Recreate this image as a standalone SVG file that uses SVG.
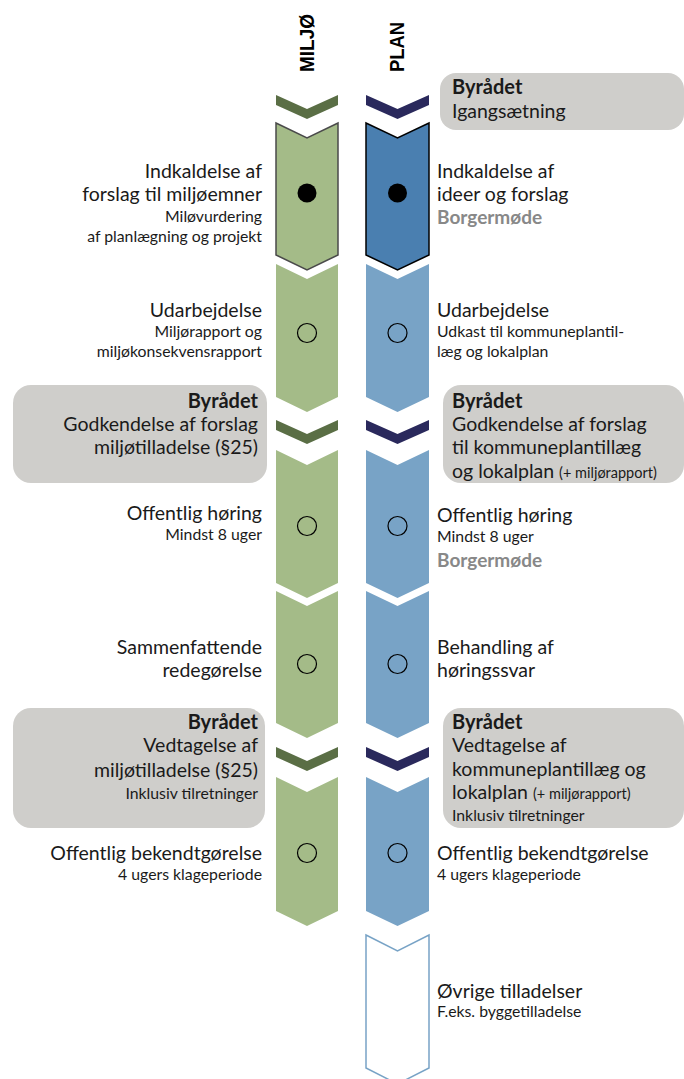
<svg xmlns="http://www.w3.org/2000/svg" width="684" height="1079" viewBox="0 0 684 1079">
<style>
text{font-family:Lato,"Liberation Sans",sans-serif;fill:#1a1a1a}
.m{font-size:19.5px}
.s{font-size:15.8px}
.b{font-size:20px;font-weight:bold}
.g{font-size:19px;font-weight:bold;fill:#888}
.e{text-anchor:end}
.h{font-family:"Liberation Sans",Arial,sans-serif;font-weight:bold;font-size:21px;fill:#000}
.box{fill:#cfcecb}
.gr{fill:#a4bb88}
.bl{fill:#78a3c6}
.dg{fill:#5a6e45}
.nv{fill:#2a295c}
.c{fill:none;stroke:#000;stroke-width:1.2}
</style>

<g id="headers">
<text class="h" transform="translate(314,72) rotate(-90)" textLength="58" lengthAdjust="spacingAndGlyphs">MILJØ</text>
<text class="h" transform="translate(404,72) rotate(-90)" textLength="50" lengthAdjust="spacingAndGlyphs">PLAN</text>
</g>

<g id="boxes">
<rect class="box" x="440" y="73" width="244" height="57" rx="16"/>
<rect class="box" x="13" y="385" width="254" height="98" rx="18"/>
<rect class="box" x="443" y="385" width="241" height="98" rx="18"/>
<rect class="box" x="13" y="708" width="252" height="120" rx="18"/>
<rect class="box" x="443" y="708" width="241" height="120" rx="18"/>
</g>

<g id="miljo-column">
<path class="dg" d="M276,95 L307,109 L338,95 L338,105 L307,119 L276,105 Z"/>
<path d="M276,123 L307,138 L338,123 L338,255 L307,270 L276,255 Z" fill="#a4bb88" stroke="#4a4a4a" stroke-width="1.5"/>
<path class="gr" d="M276,264 L307,279 L338,264 L338,397 L307,412 L276,397 Z"/>
<path class="dg" d="M276,420 L307,434 L338,420 L338,430 L307,444 L276,430 Z"/>
<path class="gr" d="M276,450 L307,465 L338,450 L338,583 L307,598 L276,583 Z"/>
<path class="gr" d="M276,591 L307,606 L338,591 L338,723 L307,738 L276,723 Z"/>
<path class="dg" d="M276,747 L307,761 L338,747 L338,757 L307,771 L276,757 Z"/>
<path class="gr" d="M276,777 L307,792 L338,777 L338,911 L307,926 L276,911 Z"/>
<circle cx="307" cy="193" r="9.5" fill="#000"/>
<circle class="c" cx="307" cy="333" r="9.5"/>
<circle class="c" cx="307" cy="526" r="9.5"/>
<circle class="c" cx="307" cy="664" r="9.5"/>
<circle class="c" cx="307" cy="853" r="9.5"/>
</g>

<g id="plan-column">
<path class="nv" d="M366,95 L397.5,109 L429,95 L429,105 L397.5,119 L366,105 Z"/>
<path d="M366,123 L397.5,138 L429,123 L429,255 L397.5,270 L366,255 Z" fill="#4a7fb0" stroke="#000" stroke-width="1.5"/>
<path class="bl" d="M366,264 L397.5,279 L429,264 L429,397 L397.5,412 L366,397 Z"/>
<path class="nv" d="M366,420 L397.5,434 L429,420 L429,430 L397.5,444 L366,430 Z"/>
<path class="bl" d="M366,450 L397.5,465 L429,450 L429,583 L397.5,598 L366,583 Z"/>
<path class="bl" d="M366,591 L397.5,606 L429,591 L429,723 L397.5,738 L366,723 Z"/>
<path class="nv" d="M366,747 L397.5,761 L429,747 L429,757 L397.5,771 L366,757 Z"/>
<path class="bl" d="M366,777 L397.5,792 L429,777 L429,911 L397.5,926 L366,911 Z"/>
<path d="M366,935 L397.5,951 L429,935 L429,1068 L397.5,1084 L366,1068 Z" fill="#fff" stroke="#78a3c6" stroke-width="1.5"/>
<circle cx="397.5" cy="193" r="9.5" fill="#000"/>
<circle class="c" cx="397.5" cy="333" r="9.5"/>
<circle class="c" cx="397.5" cy="526" r="9.5"/>
<circle class="c" cx="397.5" cy="664" r="9.5"/>
<circle class="c" cx="397.5" cy="853" r="9.5"/>
</g>

<g id="left-labels">
<text class="m e" x="262" y="178">Indkaldelse af</text>
<text class="m e" x="262" y="201">forslag til miljøemner</text>
<text class="s e" x="262" y="222">Miløvurdering</text>
<text class="s e" x="262" y="242">af planlægning og projekt</text>
<text class="m e" x="262" y="317">Udarbejdelse</text>
<text class="s e" x="262" y="337">Miljørapport og</text>
<text class="s e" x="262" y="357">miljøkonsekvensrapport</text>
<text class="b e" x="258" y="408">Byrådet</text>
<text class="m e" x="258" y="431">Godkendelse af forslag</text>
<text class="m e" x="258" y="454">miljøtilladelse (§25)</text>
<text class="m e" x="262" y="520">Offentlig høring</text>
<text class="s e" x="262" y="540">Mindst 8 uger</text>
<text class="m e" x="262" y="654">Sammenfattende</text>
<text class="m e" x="262" y="677">redegørelse</text>
<text class="b e" x="258" y="729">Byrådet</text>
<text class="m e" x="258" y="752">Vedtagelse af</text>
<text class="m e" x="258" y="777">miljøtilladelse (§25)</text>
<text class="s e" x="258" y="799">Inklusiv tilretninger</text>
<text class="m e" x="262" y="860">Offentlig bekendtgørelse</text>
<text class="s e" x="262" y="880">4 ugers klageperiode</text>
</g>

<g id="right-labels">
<text class="b" x="452" y="94">Byrådet</text>
<text class="m" x="452" y="118">Igangsætning</text>
<text class="m" x="437" y="178">Indkaldelse af</text>
<text class="m" x="437" y="201">ideer og forslag</text>
<text class="g" x="437" y="224">Borgermøde</text>
<text class="m" x="437" y="317">Udarbejdelse</text>
<text class="s" x="437" y="337">Udkast til kommuneplantil-</text>
<text class="s" x="437" y="357">læg og lokalplan</text>
<text class="b" x="452" y="408">Byrådet</text>
<text class="m" x="452" y="431">Godkendelse af forslag</text>
<text class="m" x="452" y="454">til kommuneplantillæg</text>
<text class="m" x="452" y="478">og lokalplan <tspan style="font-size:14.5px">(+ miljørapport)</tspan></text>
<text class="m" x="437" y="522">Offentlig høring</text>
<text class="s" x="437" y="542">Mindst 8 uger</text>
<text class="g" x="437" y="567">Borgermøde</text>
<text class="m" x="437" y="654">Behandling af</text>
<text class="m" x="437" y="677">høringssvar</text>
<text class="b" x="452" y="729">Byrådet</text>
<text class="m" x="452" y="752">Vedtagelse af</text>
<text class="m" x="452" y="776">kommuneplantillæg og</text>
<text class="m" x="452" y="799">lokalplan <tspan style="font-size:14.5px">(+ miljørapport)</tspan></text>
<text class="s" x="452" y="821">Inklusiv tilretninger</text>
<text class="m" x="437" y="860">Offentlig bekendtgørelse</text>
<text class="s" x="437" y="880">4 ugers klageperiode</text>
<text class="m" x="437" y="998">Øvrige tilladelser</text>
<text class="s" x="437" y="1017">F.eks. byggetilladelse</text>
</g>
</svg>
